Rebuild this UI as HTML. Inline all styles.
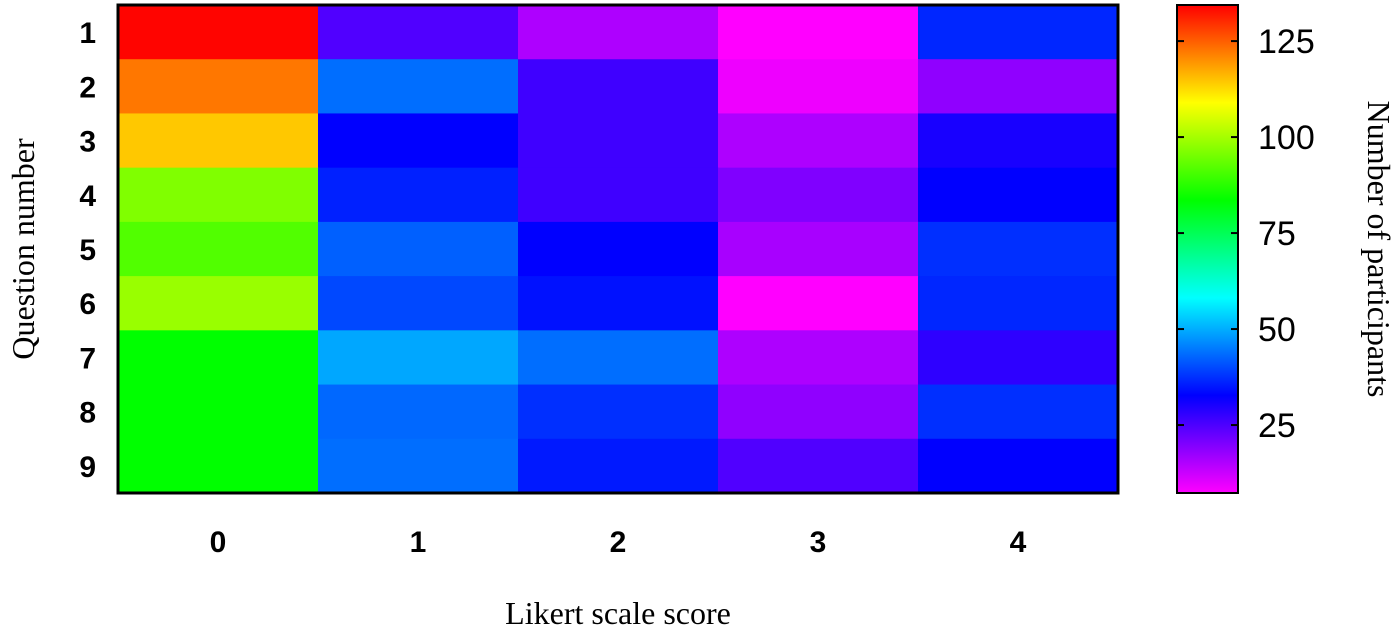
<!DOCTYPE html>
<html><head><meta charset="utf-8"><style>
html,body{margin:0;padding:0;background:#fff;width:1400px;height:634px;overflow:hidden}
</style></head><body>
<svg id="chart" width="1400" height="634" xmlns="http://www.w3.org/2000/svg">
<defs><linearGradient id="cbgrad" x1="0" y1="1" x2="0" y2="0"></linearGradient></defs>
<g id="cells"></g>
<rect x="118" y="5" width="1000" height="488" fill="none" stroke="#000" stroke-width="3"/>
<g id="ylabels"></g><g id="xlabels"></g>
<text x="618" y="624" text-anchor="middle" font-family="Liberation Serif, serif" font-size="32">Likert scale score</text>
<text transform="translate(34,249) rotate(-90)" text-anchor="middle" font-family="Liberation Serif, serif" font-size="32">Question number</text>
<rect x="1177" y="5" width="61" height="488" fill="url(#cbgrad)" stroke="#000" stroke-width="2"/>
<g id="cbticks"></g>
<text transform="translate(1368,249) rotate(90)" text-anchor="middle" font-family="Liberation Serif, serif" font-size="32">Number of participants</text>
</svg>
<script>
const questions=["1","2","3","4","5","6","7","8","9"];
const scores=["0","1","2","3","4"];
const row1=[134,24.7,15.4,7.3,36.5];
const row2=[122.5,43.7,26.4,9,18.3];
const row3=[114.5,32.7,26.4,15.4,30.3];
const row4=[96.3,35.9,26.4,20,32.7];
const row5=[91.6,42.3,32.7,16,37.4];
const row6=[98.8,39.9,34.4,7.3,36.5];
const row7=[83.6,49.4,43.7,15.4,28.1];
const row8=[83.6,43.1,37.4,18.3,37.4];
const row9=[83.6,43.7,35.2,24.7,32.7];
const values=[row1,row2,row3,row4,row5,row6,row7,row8,row9];
const cbTicks=[25,50,75,100,125];
const vmin=7.3, vmax=134.4;
const NS="http://www.w3.org/2000/svg";
const px0=118,px1=1118,py0=5,py1=493,cbx=1177,cbw=61;
function xPos(i){return px0+(px1-px0)/scores.length*i;}
function yPos(j){return py0+(py1-py0)/questions.length*j;}
function cbY(v){return py1-(v-vmin)/(vmax-vmin)*(py1-py0);}
function color(v){const t=Math.max(0,Math.min(1,(vmax-v)/(vmax-vmin)));return "hsl("+(t*300).toFixed(1)+",100%,50%)";}
const cw=(px1-px0)/scores.length, ch=(py1-py0)/questions.length;
const cells=document.getElementById('cells');
values.forEach((row,j)=>row.forEach((v,i)=>{
 const r=document.createElementNS(NS,'rect');
 r.setAttribute('x',xPos(i));r.setAttribute('y',yPos(j));
 r.setAttribute('width',cw+0.5);r.setAttribute('height',ch+0.5);
 r.setAttribute('fill',color(v));
 
 
 cells.appendChild(r);
}));
const yl=document.getElementById('ylabels');
questions.forEach((q,j)=>{
 const t=document.createElementNS(NS,'text');
 t.setAttribute('x',96);t.setAttribute('y',yPos(j)+ch/2+11);
 t.setAttribute('text-anchor','end');t.setAttribute('font-family','Liberation Sans, sans-serif');
 t.setAttribute('font-size','30');t.setAttribute('font-weight','bold');t.textContent=q;
 
 
 yl.appendChild(t);
});
const xl=document.getElementById('xlabels');
scores.forEach((s,i)=>{
 const t=document.createElementNS(NS,'text');
 t.setAttribute('x',xPos(i)+cw/2);t.setAttribute('y',552);
 t.setAttribute('text-anchor','middle');t.setAttribute('font-family','Liberation Sans, sans-serif');
 t.setAttribute('font-size','30');t.setAttribute('font-weight','bold');t.textContent=s;
 
 
 xl.appendChild(t);
});
const g=document.getElementById('cbgrad');
for(let k=0;k<=10;k++){const st=document.createElementNS(NS,'stop');st.setAttribute('offset',k/10);st.setAttribute('stop-color',color(vmin+(vmax-vmin)*k/10));g.appendChild(st);}
const cbt=document.getElementById('cbticks');
cbTicks.forEach(v=>{
 const y=cbY(v);
 [[cbx,cbx+7],[cbx+cbw-7,cbx+cbw]].forEach(([a,b])=>{
  const l=document.createElementNS(NS,'line');
  l.setAttribute('x1',a);l.setAttribute('x2',b);l.setAttribute('y1',y);l.setAttribute('y2',y);
  l.setAttribute('stroke','#000');l.setAttribute('stroke-width','2');
  
  
  cbt.appendChild(l);
 });
 const t=document.createElementNS(NS,'text');
 t.setAttribute('x',1258);t.setAttribute('y',y+12);
 t.setAttribute('font-family','Liberation Sans, sans-serif');t.setAttribute('font-size','34');
 t.textContent=v;
 
 
 cbt.appendChild(t);
});
</script>
</body></html>
